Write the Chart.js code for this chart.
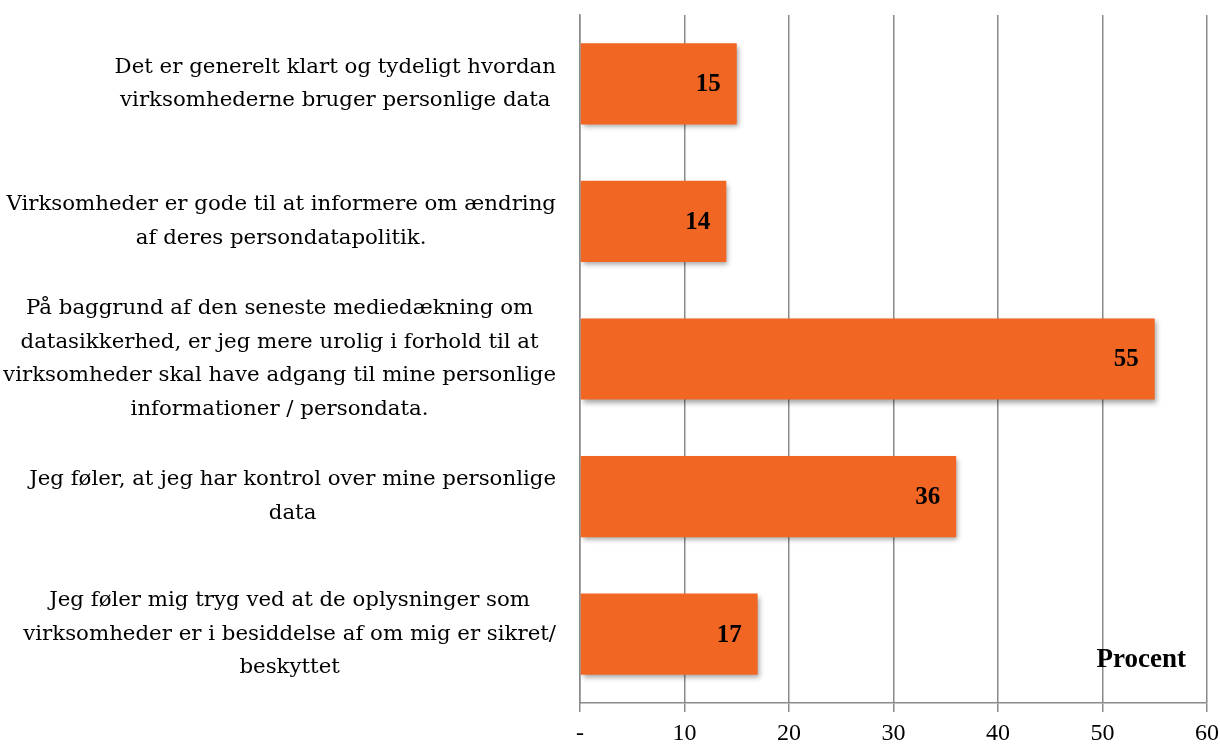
<!DOCTYPE html>
<html><head><meta charset="utf-8">
<script src="https://cdn.jsdelivr.net/npm/chart.js@4"></script>
<style>html,body{margin:0;padding:0;background:#fff}#wrap{width:1220px;height:751px;position:relative}</style>
</head><body><div id="wrap"><canvas id="c"></canvas></div>
<script>
const categories = [
  ["Det er generelt klart og tydeligt hvordan", "virksomhederne bruger personlige data"],
  ["Virksomheder er gode til at informere om ændring", "af deres persondatapolitik."],
  ["På baggrund af den seneste mediedækning om", "datasikkerhed, er jeg mere urolig i forhold til at", "virksomheder skal have adgang til mine personlige", "informationer / persondata."],
  ["Jeg føler, at jeg har kontrol over mine personlige", "data"],
  ["Jeg føler mig tryg ved at de oplysninger som", "virksomheder er i besiddelse af om mig er sikret/", "beskyttet"]
];
const values = [15, 14, 55, 36, 17];
const tickValues = [0, 10, 20, 30, 40, 50, 60];
const tickLabels = ["-", "10", "20", "30", "40", "50", "60"];
const axisTitle = "Procent";

const SERIF = '"Liberation Serif", "Times New Roman", serif';
const LABEL_SERIF = '"DejaVu Serif", serif';
const GRID = '#8a8a8a';

const labelPlugin = {
  id: 'labels',
  beforeDatasetDraw(chart) {
    const ctx = chart.ctx;
    ctx.save();
    ctx.shadowColor = 'rgba(0,0,0,0.35)';
    ctx.shadowBlur = 5;
    ctx.shadowOffsetX = 2;
    ctx.shadowOffsetY = 3;
  },
  afterDatasetDraw(chart) {
    chart.ctx.restore();
  },
  afterDatasetsDraw(chart) {
    const ctx = chart.ctx;
    const meta = chart.getDatasetMeta(0);
    ctx.save();
    ctx.font = 'bold 25px ' + SERIF;
    ctx.fillStyle = '#000';
    ctx.textAlign = 'right';
    ctx.textBaseline = 'middle';
    meta.data.forEach((bar, i) => {
      ctx.fillText(String(values[i]), bar.x - 16, bar.y + 1);
    });
    ctx.restore();
  },
  afterDraw(chart) {
    const ctx = chart.ctx;
    const ys = chart.scales.y;
    const area = chart.chartArea;
    ctx.save();
    ctx.font = '21.3px ' + LABEL_SERIF;
    ctx.fillStyle = '#000';
    ctx.textAlign = 'center';
    ctx.textBaseline = 'middle';
    const right = area.left - 24;
    const lineH = 33.5;
    categories.forEach((lines, i) => {
      const cy = ys.getPixelForValue(i);
      const w = Math.max(...lines.map(l => ctx.measureText(l).width));
      const cx = right - w / 2;
      lines.forEach((l, j) => ctx.fillText(l, cx, cy + (j - (lines.length - 1) / 2) * lineH));
    });
    ctx.font = 'bold 27px ' + SERIF;
    ctx.fillText(axisTitle, chart.scales.x.getPixelForValue(53.7), area.bottom - 43);
    ctx.restore();
  }
};

new Chart(document.getElementById('c'), {
  type: 'bar',
  data: {
    labels: categories,
    datasets: [{
      data: values,
      backgroundColor: '#F26624',
      borderWidth: 0,
      barPercentage: 0.59,
      categoryPercentage: 1
    }]
  },
  options: {
    indexAxis: 'y',
    responsive: true,
    maintainAspectRatio: false,
    animation: false,
    layout: { padding: { top: 15, right: 0, left: 0, bottom: 0 } },
    plugins: { legend: { display: false }, tooltip: { enabled: false }, title: { display: false } },
    scales: {
      x: {
        type: 'linear',
        min: 0, max: 60,
        afterBuildTicks(scale) { scale.ticks = tickValues.map(v => ({ value: v })); },
        afterFit(scale) { scale.height = 48; scale.paddingRight = 13; },
        grid: { color: GRID, lineWidth: 1.5, drawTicks: true, tickLength: 9, tickColor: GRID },
        border: { color: GRID, width: 1.5 },
        ticks: {
          color: '#000',
          font: { family: SERIF, size: 24 },
          padding: 7,
          maxRotation: 0,
          callback(v) { const k = tickValues.indexOf(v); return k >= 0 ? tickLabels[k] : ''; }
        }
      },
      y: {
        type: 'category',
        afterFit(scale) { scale.width = 580; },
        grid: { display: false },
        border: { color: GRID, width: 1.5 },
        ticks: { display: false }
      }
    }
  },
  plugins: [labelPlugin]
});
</script>
</body></html>
